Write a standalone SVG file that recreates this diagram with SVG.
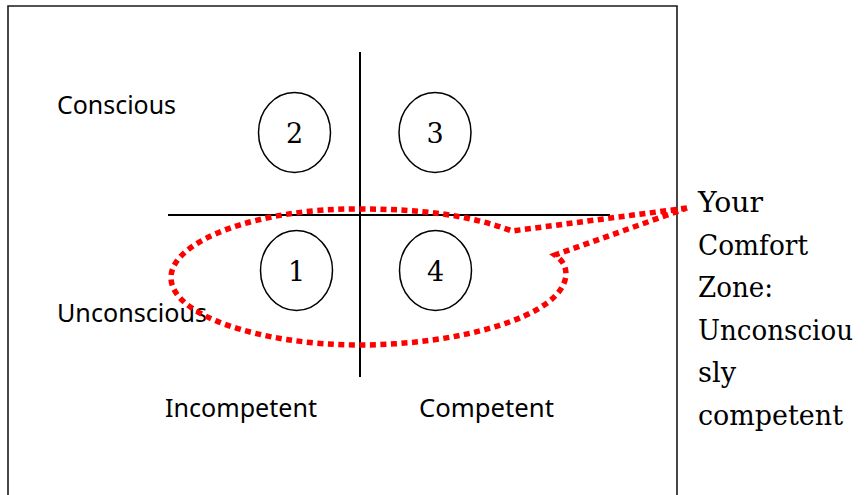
<svg xmlns="http://www.w3.org/2000/svg" width="865" height="495" viewBox="0 0 865 495">
<style>
.ax{stroke:#000;stroke-width:2;fill:none}
.c{stroke:#000;stroke-width:1.5;fill:#fff}
.num{font-family:"DejaVu Serif","Liberation Serif",serif;font-size:27px;fill:#000;text-anchor:middle}
.lab{font-family:"Noto Sans","Open Sans",sans-serif;font-size:26px;fill:#000}
.side{font-family:"DejaVu Serif","Liberation Serif",serif;font-size:27px;fill:#000}
.zone{stroke:#ff0000;stroke-width:5.5;fill:none;stroke-dasharray:6 4.5}
</style>
<rect width="865" height="495" fill="#fff"/>
<g id="frame"><path d="M8,495 V6 H677 V495" stroke="#1a1a1a" stroke-width="1.6" fill="none"/></g>
<g id="axes">
<line class="ax" x1="360" y1="52" x2="360" y2="377"/>
<line class="ax" x1="168" y1="215" x2="610" y2="215"/>
</g>
<g id="q2"><ellipse class="c" cx="294.5" cy="132.5" rx="36" ry="40"/><text class="num" x="294.5" y="142.5">2</text></g>
<g id="q3"><ellipse class="c" cx="435" cy="132.5" rx="36" ry="40"/><text class="num" x="435" y="142.5">3</text></g>
<g id="q1"><ellipse class="c" cx="296.5" cy="270.5" rx="36" ry="40"/><text class="num" x="296.5" y="280.5">1</text></g>
<g id="q4"><ellipse class="c" cx="435.5" cy="270.5" rx="36" ry="40"/><text class="num" x="435.5" y="280.5">4</text></g>
<g id="labels">
<text class="lab" x="57" y="114" textLength="119" lengthAdjust="spacingAndGlyphs">Conscious</text>
<text class="lab" x="57" y="322" textLength="150" lengthAdjust="spacingAndGlyphs">Unconscious</text>
<text class="lab" x="165" y="417" textLength="152" lengthAdjust="spacingAndGlyphs">Incompetent</text>
<text class="lab" x="419" y="417" textLength="135" lengthAdjust="spacingAndGlyphs">Competent</text>
</g>
<g id="connectors">
<path class="zone" d="M687,208 L512,231 C470,215 420,209 360,209 C260,208 172,240 171,277 C170,315 260,345 360,345 C455,345 562,318 566,275 C566,265 562,260 555,255 L687,208"/>
</g>
<g id="comfort-label">
<text class="side" x="698" y="212" textLength="65" lengthAdjust="spacingAndGlyphs">Your</text>
<text class="side" x="698" y="254.5" textLength="110" lengthAdjust="spacingAndGlyphs">Comfort</text>
<text class="side" x="698" y="297" textLength="75" lengthAdjust="spacingAndGlyphs">Zone:</text>
<text class="side" x="698" y="339.5" textLength="155" lengthAdjust="spacingAndGlyphs">Unconsciou</text>
<text class="side" x="698" y="382" textLength="38" lengthAdjust="spacingAndGlyphs">sly</text>
<text class="side" x="698" y="424.5" textLength="145" lengthAdjust="spacingAndGlyphs">competent</text>
</g>
</svg>
